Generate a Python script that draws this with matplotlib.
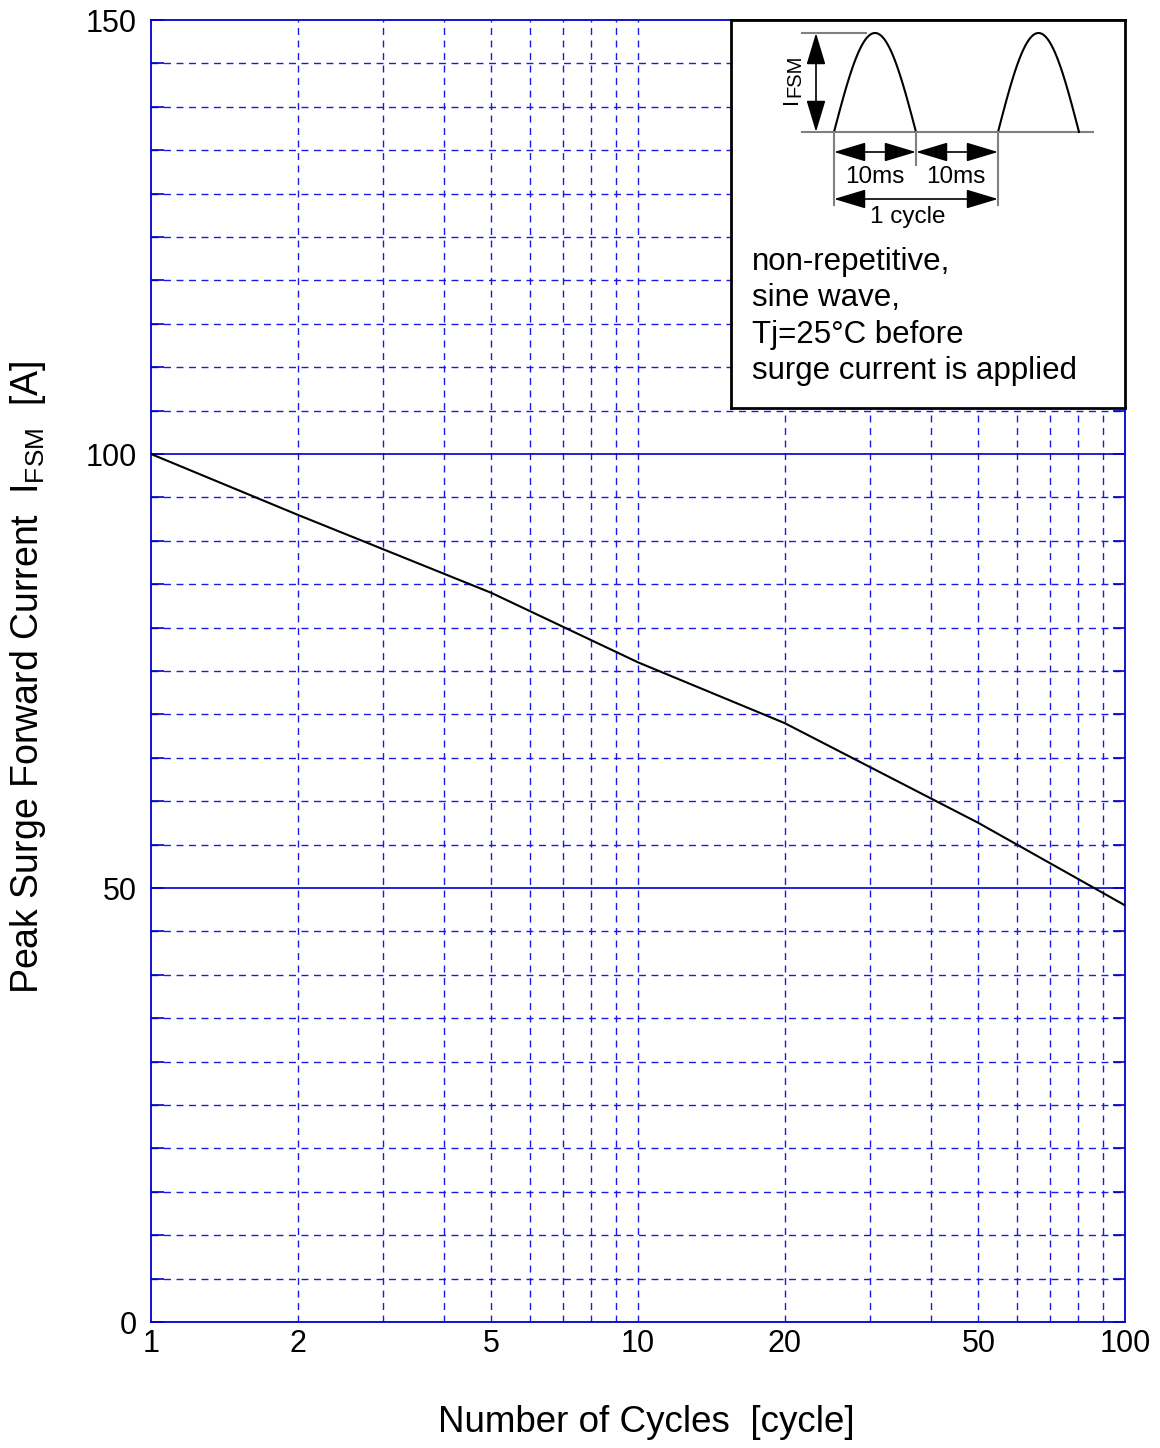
import numpy as np
import matplotlib
matplotlib.use('Agg')
import matplotlib.pyplot as plt
from matplotlib.ticker import NullLocator

# ---- data ----
cycles = [1, 2, 5, 10, 20, 50, 100]
ifsm = [100, 93, 84, 76, 69, 57.5, 48]
x_ticks = [1, 2, 5, 10, 20, 50, 100]
x_ticklabels = ['1', '2', '5', '10', '20', '50', '100']
x_grid = [2, 3, 4, 5, 6, 7, 8, 9, 10, 20, 30, 40, 50, 60, 70, 80, 90]
y_ticks = [0, 50, 100, 150]
y_ticklabels = ['0', '50', '100', '150']
y_minor = [v for v in range(5, 150, 5) if v not in (50, 100)]
note_lines = ['non-repetitive,', 'sine wave,', 'Tj=25°C before', 'surge current is applied']

plt.rcParams['font.family'] = ['Liberation Sans', 'DejaVu Sans']
plt.rcParams['mathtext.fontset'] = 'custom'
plt.rcParams['mathtext.rm'] = 'Liberation Sans'
plt.rcParams['mathtext.it'] = 'Liberation Sans'

W, H = 1160, 1448
fig = plt.figure(figsize=(W / 100, H / 100), dpi=100)
L, R, T, B = 151, 1125, 20, 1322
ax = fig.add_axes([L / W, 1 - B / H, (R - L) / W, (B - T) / H])
ax.set_xscale('log')
ax.set_xlim(1, 100)
ax.set_ylim(0, 150)
blue = '#0000cc'
gblue = '#1a1ae6'
for s in ax.spines.values():
    s.set_color(blue)
    s.set_linewidth(1.3)
dash = (0, (5, 4))
for gx in x_grid:
    ax.axvline(gx, color=gblue, lw=1.0, ls=dash, zorder=1)
for gy in y_minor:
    ax.axhline(gy, color=gblue, lw=1.0, ls=dash, zorder=1)
for gy in (50, 100):
    ax.axhline(gy, color=blue, lw=1.2, zorder=1)
ax.plot(cycles, ifsm, color='k', lw=1.5, zorder=3)

ax.set_xticks(x_ticks)
ax.set_xticklabels(x_ticklabels)
ax.xaxis.set_minor_locator(NullLocator())
ax.tick_params(axis='x', which='both', length=0, labelsize=22, pad=5)
ax.set_yticks(y_ticks)
ax.set_yticklabels(y_ticklabels)
ax.set_yticks(y_minor, minor=True)
ax.tick_params(axis='y', which='both', direction='in', length=9, width=1.2,
               color=blue, left=True, right=True, labelsize=22, pad=10)

fig.text(28 / W, 1 - 677 / H, r'Peak Surge Forward Current  I$\mathregular{_{FSM}}$  [A]',
         rotation=90, ha='center', va='center', fontsize=27)
fig.text(646 / W, 1 - 1422 / H, 'Number of Cycles  [cycle]',
         ha='center', va='center', fontsize=26.5)

# ---- inset schematic (pixel coordinates) ----
IL, IR, IT, IB = 731, 1125, 20, 408
ai = fig.add_axes([IL / W, 1 - IB / H, (IR - IL) / W, (IB - IT) / H], zorder=5)
ai.set_xlim(IL, IR)
ai.set_ylim(IB, IT)
ai.set_xticks([])
ai.set_yticks([])
ai.set_facecolor('white')
for s in ai.spines.values():
    s.set_color('black')
    s.set_linewidth(2)

gray = '#808080'
base_y, peak_y = 132, 33
ai.plot([802, 1093], [base_y, base_y], color=gray, lw=1.5)
ai.plot([802, 866], [peak_y, peak_y], color=gray, lw=1.5)
for x0, x1 in ((834, 916), (998, 1079)):
    t = np.linspace(0, 1, 100)
    ai.plot(x0 + (x1 - x0) * t, base_y - (base_y - peak_y) * np.sin(np.pi * t), color='k', lw=1.5)
ai.plot([834, 834], [base_y, 205], color=gray, lw=1.5)
ai.plot([916, 916], [base_y, 165], color=gray, lw=1.5)
ai.plot([998, 998], [base_y, 205], color=gray, lw=1.5)
ap = dict(arrowstyle='<|-|>,head_length=0.9,head_width=0.27', color='k', lw=1.2,
          shrinkA=0, shrinkB=0, mutation_scale=22)
ai.annotate('', xy=(816, peak_y), xytext=(816, base_y), arrowprops=ap)
ai.annotate('', xy=(834, 152), xytext=(916, 152), arrowprops=ap)
ai.annotate('', xy=(916, 152), xytext=(998, 152), arrowprops=ap)
ai.annotate('', xy=(834, 199), xytext=(998, 199), arrowprops=ap)
ai.text(792, 101, 'I', rotation=90, ha='center', va='center', fontsize=16)
ai.text(795, 76, 'FSM', rotation=90, ha='center', va='center', fontsize=14.5)
ai.text(875, 177, '10ms', ha='center', va='center', fontsize=17.5)
ai.text(956, 177, '10ms', ha='center', va='center', fontsize=17.5)
ai.text(908, 217, '1 cycle', ha='center', va='center', fontsize=17.5)
for i, line in enumerate(note_lines):
    ai.text(752, 262 + 36.3 * i, line, ha='left', va='center', fontsize=22.5)

fig.savefig('out.png', dpi=100)
